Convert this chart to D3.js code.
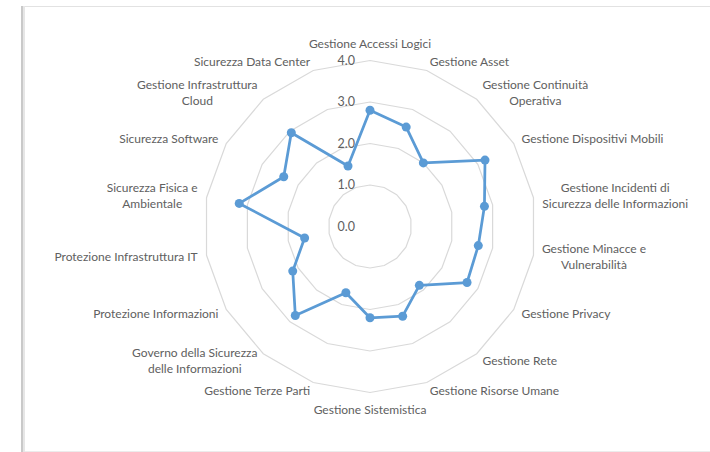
<!DOCTYPE html>
<html>
<head>
<meta charset="utf-8">
<script src="https://cdn.jsdelivr.net/npm/d3@7"></script>
<style>
  html, body { margin: 0; padding: 0; background: #ffffff; }
  svg { display: block; }
  text { font-family: Lato, "Open Sans", sans-serif; font-size: 12px; fill: #606060; }
</style>
</head>
<body>
<svg id="chart" width="710" height="452"></svg>
<script>
// Categories, clockwise from the top; "\n" splits a label over two lines
const categories = [
  "Gestione Accessi Logici",
  "Gestione Asset",
  "Gestione Continuità\nOperativa",
  "Gestione Dispositivi Mobili",
  "Gestione Incidenti di\nSicurezza delle Informazioni",
  "Gestione Minacce e\nVulnerabilità",
  "Gestione Privacy",
  "Gestione Rete",
  "Gestione Risorse Umane",
  "Gestione Sistemistica",
  "Gestione Terze Parti",
  "Governo della Sicurezza\ndelle Informazioni",
  "Protezione Informazioni",
  "Protezione Infrastruttura IT",
  "Sicurezza Fisica e\nAmbientale",
  "Sicurezza Software",
  "Gestione Infrastruttura\nCloud",
  "Sicurezza Data Center"
];

// Maturity score per category
const scores = [2.8, 2.55, 2.0, 3.2, 2.8, 2.65, 2.7, 1.85, 2.3, 2.2,
                1.7, 2.8, 2.15, 1.6, 3.2, 2.4, 2.95, 1.55];

// Radial axis ticks
const ticks = [0, 1, 2, 3, 4];
const tickLabels = ["0.0", "1.0", "2.0", "3.0", "4.0"];

const svg = d3.select("#chart");
const cx = 370, cy = 226.5, R = 166;
const lineColor = "#5b9bd5";

// Sheet frame
svg.append("line").attr("x1", 21).attr("x2", 710).attr("y1", 6.5).attr("y2", 6.5)
  .attr("stroke", "#e2e2e2").attr("stroke-width", 1);
svg.append("line").attr("x1", 21).attr("x2", 710).attr("y1", 451.5).attr("y2", 451.5)
  .attr("stroke", "#ececec").attr("stroke-width", 1);
svg.append("rect").attr("x", 21).attr("y", 6).attr("width", 2).attr("height", 446).attr("fill", "#c9c9c9");
svg.append("rect").attr("x", 23).attr("y", 6).attr("width", 2).attr("height", 446).attr("fill", "#e6e6e6");

const n = categories.length;
const angle = d3.scaleLinear().domain([0, n]).range([0, 2 * Math.PI]);
const r = d3.scaleLinear().domain([0, 4]).range([0, R]);

const g = svg.append("g").attr("transform", `translate(${cx},${cy})`);
const pt = (i, v) => [Math.sin(angle(i)) * r(v), -Math.cos(angle(i)) * r(v)];

// Gridline polygons
const ring = d3.line().curve(d3.curveLinearClosed);
g.selectAll("path.grid")
  .data(ticks.filter(t => t > 0))
  .join("path")
  .attr("class", "grid")
  .attr("d", t => ring(d3.range(n).map(i => pt(i, t))))
  .attr("fill", "none")
  .attr("stroke", "#d9d9d9")
  .attr("stroke-width", 1.2);

// Value axis labels
g.selectAll("text.tick")
  .data(ticks)
  .join("text")
  .attr("class", "tick")
  .attr("x", -15)
  .attr("y", t => -r(t))
  .attr("dy", "0.35em")
  .attr("text-anchor", "end")
  .style("font-size", "12.5px")
  .text((t, i) => tickLabels[i]);

// Data series
const series = scores.map((v, i) => pt(i, v));
g.append("path")
  .attr("d", ring(series))
  .attr("fill", "none")
  .attr("stroke", lineColor)
  .attr("stroke-width", 2.75)
  .attr("stroke-linejoin", "round");

g.selectAll("circle.pt")
  .data(series)
  .join("circle")
  .attr("class", "pt")
  .attr("cx", d => d[0])
  .attr("cy", d => d[1])
  .attr("r", 4.5)
  .attr("fill", lineColor);

// Category labels outside the outer ring
const lineH = 16, pad = 9;
categories.forEach((label, i) => {
  const a = angle(i);
  const s = Math.sin(a), c = -Math.cos(a);
  const ax = Math.sin(a) * (R + pad);
  const ay = -Math.cos(a) * (R + pad);
  const lines = label.split("\n");
  const t = g.append("text").attr("text-anchor", "middle");
  const spans = lines.map(l => t.append("tspan").text(l));
  const widths = spans.map(sp => sp.node().getComputedTextLength());
  const w = d3.max(widths);
  const h = lines.length * lineH;
  let centerX, top;
  if (Math.abs(s) < 0.1) {
    centerX = ax;
    top = c < 0 ? ay - h : ay;
  } else {
    centerX = s > 0 ? ax + w / 2 : ax - w / 2;
    top = ay - h / 2;
  }
  spans.forEach((sp, k) => {
    sp.attr("x", centerX).attr("y", top + lineH * k + lineH / 2).attr("dy", "0.35em");
  });
});
</script>
</body>
</html>
